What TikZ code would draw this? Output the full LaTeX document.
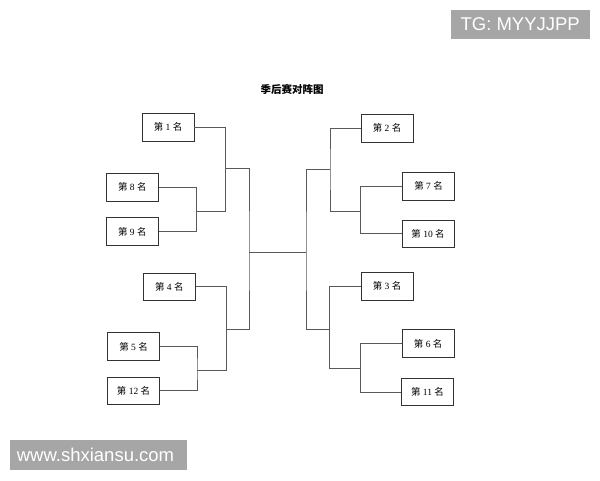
\documentclass[tikz,border=0pt]{standalone}
\usepackage{fontspec}
\setmainfont{Liberation Serif}
\newfontfamily\cjk{Noto Sans CJK SC}
\newfontfamily\wmfont{Liberation Sans}
\begin{document}
\begin{tikzpicture}[x=1pt,y=-1pt,
  teambox/.style={draw=black!80, line width=0.9pt, minimum width=52pt, minimum height=27.5pt, inner sep=0pt, font=\fontsize{9.5}{10}\selectfont},
  link/.style={draw=black!65, line width=0.9pt},
  wmbox/.style={fill=black!35, text=white, inner sep=0pt, font=\wmfont\fontsize{18.5}{20}\selectfont, anchor=center}
]
\useasboundingbox (0,0) rectangle (600,480);
\fill[white] (0,0) rectangle (600,480);

\node[font=\cjk\bfseries\fontsize{10.5}{12}\selectfont] (title) at (292,89.5) {季后赛对阵图};

% left teams
\node[teambox] (n1)  at (168,127.3) {{\cjk 第} 1 {\cjk 名}};
\node[teambox] (n8)  at (132.3,187.3) {{\cjk 第} 8 {\cjk 名}};
\node[teambox] (n9)  at (132.3,231.5) {{\cjk 第} 9 {\cjk 名}};
\node[teambox] (n4)  at (169.3,286.7) {{\cjk 第} 4 {\cjk 名}};
\node[teambox] (n5)  at (133.5,346.5) {{\cjk 第} 5 {\cjk 名}};
\node[teambox] (n12) at (133.5,390.7) {{\cjk 第} 12 {\cjk 名}};
% right teams
\node[teambox] (n2)  at (387,128.3) {{\cjk 第} 2 {\cjk 名}};
\node[teambox] (n7)  at (428.5,186.3) {{\cjk 第} 7 {\cjk 名}};
\node[teambox] (n10) at (428,233.8) {{\cjk 第} 10 {\cjk 名}};
\node[teambox] (n3)  at (387,286.3) {{\cjk 第} 3 {\cjk 名}};
\node[teambox] (n6)  at (428.2,343.6) {{\cjk 第} 6 {\cjk 名}};
\node[teambox] (n11) at (427.5,392) {{\cjk 第} 11 {\cjk 名}};

% junctions
\coordinate (a89)  at (196.5,211);
\coordinate (b1)   at (225.5,168.7);
\coordinate (a512) at (197,370);
\coordinate (b4)   at (226.5,329);
\coordinate (cL)   at (249,252.3);
\coordinate (cR)   at (306,252.3);
\coordinate (r2)   at (330,169);
\coordinate (r710) at (360.7,211.7);
\coordinate (r3)   at (329.5,329.3);
\coordinate (r611) at (360.3,368.7);

% left bracket
\draw[link] (n8.east) -| (a89) |- (n9.east);
\draw[link] (n1.east) -| (b1) |- (a89);
\draw[link] (n5.east) -| (a512) |- (n12.east);
\draw[link] (n4.east) -| (b4) |- (a512);
\draw[link] (b1) -| (cL) |- (b4);
\draw[link] (cL) -- (cR);
% right bracket
\draw[link] (n7.west) -| (r710) |- (n10.west);
\draw[link] (n2.west) -| (r2) |- (r710);
\draw[link] (n6.west) -| (r611) |- (n11.west);
\draw[link] (n3.west) -| (r3) |- (r611);
\draw[link] (r2) -| (cR) |- (r3);

% watermarks
\fill[black!35] (451,10) rectangle (589.5,39);
\node[wmbox, fill=none] (wm1) at (520.2,24.5) {TG: MYYJJPP};
\fill[black!35] (10,440) rectangle (187,469.5);
\node[wmbox, fill=none] (wm2) at (95.5,455) {www.shxiansu.com};
\end{tikzpicture}
\end{document}
